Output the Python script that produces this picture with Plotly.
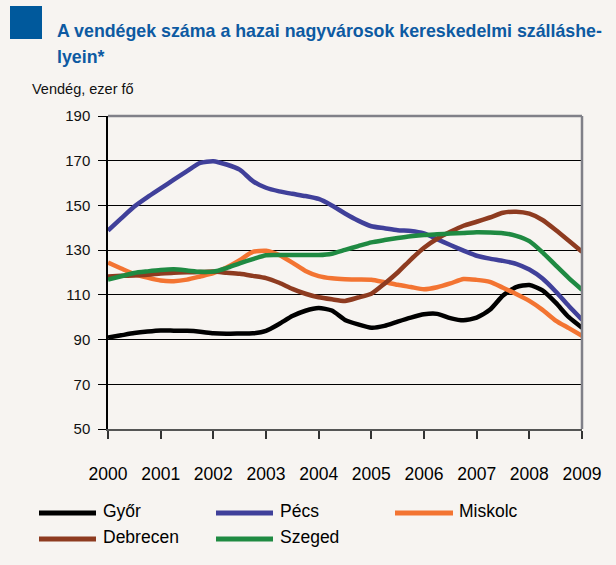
import plotly.graph_objects as go

# ---------------- data (thousand guests, quarterly readings) ----------------
years = [2000 + q / 4 for q in range(37)]

gyor = [90.9, 91.9, 92.9, 93.6, 94.1, 94.0, 93.9, 93.5, 92.8, 92.6, 92.7, 92.8,
        93.9, 97.0, 100.5, 102.9, 104.1, 103.0, 98.8, 96.8, 95.3, 96.1, 98.0, 99.8,
        101.3, 101.5, 99.6, 98.6, 99.8, 103.3, 109.7, 113.5, 114.4, 112.0, 106.5, 100.0, 95.3]
pecs = [138.8, 144.2, 149.5, 153.7, 157.6, 161.5, 165.3, 169.0, 169.8, 168.3, 166.0, 160.9,
        157.9, 156.3, 155.2, 154.2, 152.9, 150.0, 146.4, 143.2, 140.7, 139.8, 138.9, 138.6,
        137.5, 134.9, 132.3, 129.8, 127.5, 126.2, 125.2, 123.9, 121.3, 117.3, 111.5, 105.0, 98.9]
miskolc = [124.4, 121.8, 119.3, 117.7, 116.4, 116.1, 116.8, 118.2, 119.7, 122.2, 125.5, 129.2,
           129.7, 127.8, 124.4, 120.7, 118.4, 117.4, 117.0, 116.9, 116.8, 115.7, 114.5, 113.5,
           112.5, 113.4, 115.1, 117.1, 116.7, 115.8, 113.2, 110.4, 107.3, 103.3, 98.5, 95.1, 91.7]
debrecen = [118.2, 118.5, 118.7, 119.0, 119.5, 119.9, 120.1, 120.2, 120.4, 119.9, 119.4, 118.5,
            117.5, 115.4, 112.7, 110.5, 108.9, 108.0, 107.3, 108.8, 110.5, 115.0, 120.0, 125.8,
            131.1, 135.1, 138.2, 140.9, 142.7, 144.6, 146.7, 147.2, 146.3, 143.5, 139.0, 134.2, 129.3]
szeged = [116.8, 118.3, 119.8, 120.5, 121.1, 121.4, 120.9, 120.3, 120.4, 122.0, 124.1, 126.0,
          127.7, 127.8, 127.8, 127.8, 127.8, 128.4, 130.1, 131.8, 133.5, 134.5, 135.4, 136.2,
          136.8, 137.1, 137.4, 137.7, 138.0, 137.9, 137.6, 136.4, 134.0, 129.0, 123.2, 117.5, 112.3]

series_names = ["Győr", "Pécs", "Miskolc", "Debrecen", "Szeged"]
series_values = [gyor, pecs, miskolc, debrecen, szeged]
series_colors = ["#000000", "#40409a", "#f37432", "#8e3b20", "#1f8a42"]

x_tick_vals = [2000, 2001, 2002, 2003, 2004, 2005, 2006, 2007, 2008, 2009]
x_tick_text = ["2000", "2001", "2002", "2003", "2004", "2005", "2006", "2007", "2008", "2009"]
y_tick_vals = [50, 70, 90, 110, 130, 150, 170, 190]

title_line1 = "A vendégek száma a hazai nagyvárosok kereskedelmi szálláshe-"
title_line2 = "lyein*"
y_title = "Vendég, ezer fő"

# ---------------- layout helpers ----------------
W, H = 616, 565
L, R, T, B = 108, 582, 116, 429
BG = "#f7f4f1"
ARIAL = "Liberation Sans, Arial, sans-serif"


def px(x):
    return (x - L) / (R - L)


def py(y):
    return (B - y) / (B - T)


fig = go.Figure()
for name, vals, col in zip(series_names, series_values, series_colors):
    fig.add_trace(go.Scatter(x=years, y=vals, mode="lines", name=name,
                             line=dict(color=col, width=4.5, shape="spline", smoothing=0.6),
                             hoverinfo="skip"))

shapes = []
annotations = []

# frame: top and right grey borders
shapes.append(dict(type="line", xref="paper", yref="paper", x0=0, x1=1, y0=1, y1=1,
                   line=dict(color="#808088", width=2.5)))
shapes.append(dict(type="line", xref="paper", yref="paper", x0=1, x1=1, y0=0, y1=1,
                   line=dict(color="#808088", width=2.5)))

# title square
shapes.append(dict(type="rect", xref="paper", yref="paper", x0=px(10), x1=px(42), y0=py(39), y1=py(6),
                   fillcolor="#00599c", line=dict(width=0)))

annotations.append(dict(text=title_line1, xref="paper", yref="paper", x=px(55), y=py(31),
                        xanchor="left", yanchor="middle", showarrow=False,
                        font=dict(family=ARIAL, size=17.8, color="#0d5aa2", weight="bold")))
annotations.append(dict(text=title_line2, xref="paper", yref="paper", x=px(55), y=py(57),
                        xanchor="left", yanchor="middle", showarrow=False,
                        font=dict(family=ARIAL, size=17.8, color="#0d5aa2", weight="bold")))
annotations.append(dict(text=y_title, xref="paper", yref="paper", x=px(30), y=py(89),
                        xanchor="left", yanchor="middle", showarrow=False,
                        font=dict(family=ARIAL, size=14.5, color="#111")))

# manual legend
leg_cols = [(39, 96, 101), (216, 273, 278), (395, 453, 457)]
leg_rows = [512, 538]
for i, (name, col) in enumerate(zip(series_names, series_colors)):
    r, c = divmod(i, 3)
    x0, x1, xt = leg_cols[c]
    yy = leg_rows[r]
    shapes.append(dict(type="line", xref="paper", yref="paper", x0=px(x0), x1=px(x1),
                       y0=py(yy + 1), y1=py(yy + 1), line=dict(color=col, width=5)))
    annotations.append(dict(text=name, xref="paper", yref="paper", x=px(xt), y=py(yy - 1),
                            xanchor="left", yanchor="middle", showarrow=False,
                            font=dict(family=ARIAL, size=17.5, color="#000")))

fig.update_layout(
    width=W, height=H, autosize=False,
    margin=dict(l=L, r=W - R, t=T, b=H - B, pad=0),
    paper_bgcolor=BG, plot_bgcolor=BG, showlegend=False,
    shapes=shapes, annotations=annotations,
    xaxis=dict(range=[2000, 2009], tickvals=x_tick_vals, ticktext=x_tick_text,
               ticks="outside", ticklen=8, tickwidth=1.5, tickcolor="#333",
               showgrid=False, zeroline=False, showline=True, linecolor="#555", linewidth=2,
               tickfont=dict(family=ARIAL, size=17.5, color="#000"), ticklabelstandoff=20),
    yaxis=dict(range=[50, 190], tickvals=y_tick_vals,
               ticks="outside", ticklen=8, tickwidth=1.2, tickcolor="#000",
               showgrid=True, gridcolor="#000", gridwidth=1, zeroline=False,
               showline=True, linecolor="#000", linewidth=1.5,
               tickfont=dict(family=ARIAL, size=15, color="#111"), ticklabelstandoff=5),
)

fig.write_html("out.html", config={"displayModeBar": False},
               post_script="document.body.style.margin='0';document.body.style.overflow='hidden';")
